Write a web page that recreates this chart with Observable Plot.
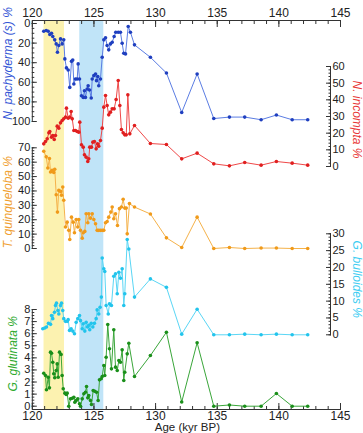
<!DOCTYPE html>
<html><head><meta charset="utf-8">
<script src="https://cdn.jsdelivr.net/npm/d3@7"></script>
<script src="https://cdn.jsdelivr.net/npm/@observablehq/plot@0.6"></script>
<style>
body{margin:0;background:#fff;}
#chart{position:relative;width:363px;height:433px;}
#chart svg{position:absolute;left:0;top:0;}
</style></head><body><div id="chart"></div>
<script>
// ---- data ----
const ageDomain = [120, 145];
const ageTicks = [120, 125, 130, 135, 140, 145];
const yellowBand = [120.95, 122.61];
const blueBand = [123.85, 125.8];

const pachyAge = [120.93,121.13,121.29,121.42,121.56,121.66,121.82,121.94,122.04,122.15,122.29,122.42,122.55,122.64,122.77,122.91,123.04,123.18,123.28,123.37,123.50,123.64,123.72,123.83,123.99,124.13,124.23,124.31,124.45,124.53,124.64,124.78,124.86,124.99,125.13,125.21,125.31,125.39,125.53,125.67,125.80,125.94,126.07,126.20,126.34,126.48,126.64,126.77,126.97,127.15,127.29,127.42,127.56,127.78,127.96,128.29,129.58,130.88,132.12,133.37,134.72,135.99,137.23,138.56,139.80,141.08,142.34];
const pachyPct = [7.9,7.2,7.9,11.3,9.9,13.3,16.7,20.8,29.4,22.5,15.7,20.8,16.7,36.1,45.3,47.4,65.2,38.6,37.2,61.7,56.6,56.6,41.2,56.6,73.7,75.4,68.6,75.4,66.8,63.5,67.9,76.0,56.6,53.2,51.5,58.3,54.2,63.5,56.6,34.5,16.7,14.6,22.5,26.9,20.8,19.1,13.3,8.9,8.9,8.9,20.2,30.4,31.0,3.1,8.9,21.8,34.5,50.5,90.8,51.5,97.0,95.5,95.5,98.2,93.4,98.2,98.2];
const pachyTicks = [0, 20, 40, 60, 80, 100];

const incomptaAge = [120.93,121.07,121.21,121.34,121.42,121.56,121.66,121.78,121.88,122.02,122.15,122.29,122.42,122.55,122.69,122.77,122.91,123.04,123.15,123.24,123.37,123.50,123.64,123.77,123.85,123.99,124.13,124.23,124.37,124.50,124.58,124.66,124.80,124.91,125.04,125.18,125.29,125.39,125.53,125.67,125.80,125.94,126.07,126.20,126.34,126.48,126.64,126.80,126.97,127.10,127.23,127.37,127.50,127.62,127.75,127.91,128.29,129.58,130.88,132.12,133.37,134.72,135.99,137.23,138.56,139.80,141.08,142.34];
const incomptaPct = [13.6,15.0,16.6,20.2,21.0,17.6,18.6,16.2,18.6,24.2,23.0,26.2,27.6,28.6,29.6,35.0,29.0,29.6,33.0,28.6,21.6,21.6,21.0,20.6,26.6,13.0,11.6,7.0,5.6,3.0,4.6,11.6,11.6,14.6,15.0,10.6,13.6,12.2,15.6,23.0,35.6,42.6,36.6,31.0,32.6,34.6,34.6,40.2,51.6,36.6,22.2,20.2,19.0,19.0,43.0,19.6,24.6,13.8,13.2,4.6,8.0,1.6,0.4,2.4,0.8,3.0,2.0,0.8];
const incomptaTicks = [0, 10, 20, 30, 40, 50, 60];

const quinqAge = [120.93,121.13,121.26,121.39,121.48,121.61,121.74,121.82,121.94,122.04,122.15,122.29,122.37,122.47,122.55,122.69,122.83,122.96,123.04,123.18,123.32,123.42,123.56,123.69,123.77,123.91,124.05,124.13,124.26,124.37,124.50,124.58,124.72,124.86,124.99,125.13,125.26,125.39,125.53,125.67,125.80,125.94,126.07,126.20,126.37,126.48,126.61,126.75,126.91,127.07,127.23,127.37,127.50,127.62,127.70,127.88,128.29,129.58,130.88,132.12,133.37,134.72,135.99,137.23,138.56,139.80,141.08,142.34];
const quinqPct = [67.6,63.7,56.0,62.5,53.2,54.4,52.8,55.1,37.4,25.3,40.4,39.7,37.0,42.7,33.5,14.9,18.3,12.6,6.3,21.8,18.3,10.9,20.2,14.9,20.2,12.6,7.2,10.9,11.9,24.2,17.9,24.2,21.1,24.2,20.2,17.2,12.6,12.6,12.6,12.6,12.6,17.9,18.8,21.8,25.3,28.8,20.7,24.2,16.0,27.7,28.8,34.2,28.1,28.1,10.2,31.2,28.8,24.0,7.4,0.7,21.8,0,0.7,0,0.3,0.3,0,0];
const quinqTicks = [0, 10, 20, 30, 40, 50, 60, 70];

const bulloAge = [120.85,121.01,121.15,121.31,121.48,121.56,121.66,121.80,121.88,121.96,122.07,122.15,122.29,122.37,122.47,122.55,122.69,122.83,122.91,123.02,123.15,123.28,123.42,123.56,123.69,123.83,123.91,124.05,124.13,124.26,124.37,124.48,124.58,124.66,124.78,124.91,125.04,125.18,125.26,125.39,125.50,125.60,125.67,125.80,125.88,125.99,126.16,126.26,126.42,126.61,126.75,126.89,127.02,127.15,127.29,127.42,127.50,127.70,127.83,128.29,129.58,130.88,132.12,133.37,134.72,135.99,137.23,138.56,139.80,141.08,142.34];
const bulloPct = [1.8,2.0,2.3,3.4,3.1,5.7,4.8,6.7,8.7,9.4,7.2,6.2,8.7,9.4,7.2,4.8,4.0,4.0,4.5,1.3,1.8,1.1,0.3,3.7,4.8,5.7,4.2,1.8,3.3,1.1,3.7,2.3,2.8,1.5,3.4,2.3,3.4,4.8,7.4,6.2,8.2,11.2,22.8,19.6,18.8,8.7,6.2,9.2,8.7,17.4,18.1,12.2,18.6,16.8,19.6,8.7,12.2,28.3,25.5,11.2,16.6,14.1,0.2,7.6,0,0,0.2,0,0.2,0,0];
const bulloTicks = [0, 5, 10, 15, 20, 25, 30];

const glutAge = [120.93,121.07,121.15,121.29,121.39,121.48,121.56,121.66,121.74,121.82,121.94,122.02,122.10,122.21,122.34,122.42,122.51,122.64,122.75,122.83,122.96,123.10,123.24,123.37,123.45,123.56,123.69,123.83,123.91,124.05,124.18,124.31,124.40,124.50,124.58,124.72,124.80,124.94,125.07,125.21,125.34,125.45,125.59,125.67,125.80,125.88,125.99,126.12,126.26,126.42,126.61,126.75,126.89,127.02,127.15,127.29,127.42,127.50,127.70,127.83,128.29,129.58,130.88,132.12,133.37,134.72,135.99,137.23,138.56,139.80,141.08,142.34];
const glutPct = [2.73,2.54,1.36,2.40,1.52,4.47,4.38,3.64,2.68,2.35,2.95,3.50,2.40,4.47,4.28,2.54,1.44,1.08,0.97,1.08,0.0,0.61,0.66,0.74,0.33,0.47,0.61,0.2,0.0,0.61,1.03,1.16,1.63,0.69,0.88,0.47,0.14,1.30,1.24,1.16,0.47,2.18,2.27,2.46,3.37,2.54,4.05,6.76,4.75,3.09,6.32,3.23,2.95,3.78,3.64,4.66,2.13,2.81,4.33,5.21,2.46,4.19,6.12,0.35,5.25,0,0.1,0,0,1.05,0,0];
const glutTicks = [0, 1, 2, 3, 4, 5, 6, 7, 8];

// ---- layout ----
const W = 363, H = 433, FX0 = 31.8, FX1 = 340, RAX = 330;
const FONT = "'Liberation Sans', Arial, sans-serif";
const AX = "#333";
const chart = document.getElementById("chart");
const baseStyle = {background: "transparent", fontFamily: FONT, fontSize: "11px", overflow: "visible", color: AX};

// base: bands + age axes
chart.append(Plot.plot({
  width: W, height: H, marginTop: 20, marginBottom: 24, marginLeft: FX0, marginRight: W - FX1,
  x: {domain: ageDomain, range: [FX0, FX1], label: null},
  y: {domain: [0, 1], axis: null},
  style: {...baseStyle, background: "white"},
  marks: [
    Plot.rect([yellowBand], {x1: d => d[0], x2: d => d[1], fill: "#fcf2b0"}),
    Plot.rect([blueBand], {x1: d => d[0], x2: d => d[1], fill: "#c0e4f8"}),
    Plot.frame({anchor: "top", stroke: AX}),
    Plot.frame({anchor: "bottom", stroke: AX}),
    Plot.axisX(d3.range(120, 145.5, 1), {anchor: "top", tickSize: 3, dy: 3, fill: "none", stroke: AX, label: null}),
    Plot.axisX(ageTicks, {anchor: "top", tickSize: 6, dy: 6, fill: "none", stroke: AX, label: null}),
    Plot.axisX(ageTicks, {anchor: "top", tickSize: 0, tickPadding: 3.5, fontSize: 12, fill: "#222", label: null}),
    Plot.axisX(d3.range(120, 145.5, 1), {anchor: "bottom", tickSize: 3, dy: -3, fill: "none", stroke: AX, label: null}),
    Plot.axisX(ageTicks, {anchor: "bottom", tickSize: 0, tickPadding: 2, fontSize: 12, fill: "#222", label: null}),
    Plot.axisX(ageTicks, {anchor: "bottom", tickSize: 6, dy: -6, fill: "none", stroke: AX, label: null}),
    Plot.text(["Age (kyr BP)"], {frameAnchor: "bottom", dx: 1, dy: 21, fontSize: 11.5, fill: "#222"})
  ]
}));

function panel({age, pct, top, bottom, domain, reverse = false, side, major, minorStep, dot, line, labelColor, label, ldx, ldy}) {
  const data = age.map((a, i) => ({age: a, v: pct[i]}));
  const left = side === "left";
  const minor = d3.range(domain[0], domain[1] + minorStep / 2, minorStep);
  return Plot.plot({
    width: W, height: H, marginTop: top, marginBottom: H - bottom,
    marginLeft: FX0, marginRight: left ? W - FX1 : W - RAX,
    x: {domain: ageDomain, range: [FX0, FX1], axis: null},
    y: {domain, reverse, label: null},
    style: baseStyle,
    marks: [
      Plot.frame({anchor: side, stroke: AX}),
      Plot.axisY(minor, {anchor: side, tickSize: 2.5, dx: left ? 2.5 : -2.5, fill: "none", stroke: AX, label: null}),
      Plot.axisY(major, {anchor: side, tickSize: 5, dx: left ? 5 : -5, fill: "none", stroke: AX, label: null}),
      Plot.axisY(major, {anchor: side, tickSize: 0, tickPadding: 2, fontSize: 11, fill: "#222", label: null}),
      Plot.line(data, {x: "age", y: "v", stroke: line, strokeWidth: 1}),
      Plot.dot(data, {x: "age", y: "v", fill: dot, r: 1.8}),
      Plot.text([label], {frameAnchor: left ? "left" : "right", textAnchor: "middle", rotate: left ? -90 : 90,
        dx: ldx, dy: ldy, fill: labelColor, fontSize: 12, fontStyle: "italic"})
    ]
  });
}

chart.append(panel({age: pachyAge, pct: pachyPct, top: 23, bottom: 121, domain: [0, 100], reverse: true,
  side: "left", major: pachyTicks, minorStep: 5, dot: "#1f3fbf", line: "#5b7de3", labelColor: "#3456d6",
  label: "N. pachyderma (s) %", ldx: -24.5, ldy: -9}));
chart.append(panel({age: incomptaAge, pct: incomptaPct, top: 66, bottom: 166, domain: [0, 60],
  side: "right", major: incomptaTicks, minorStep: 2, dot: "#e01f1f", line: "#ef4848", labelColor: "#e83838",
  label: "N. incompta %", ldx: 26, ldy: 3}));
chart.append(panel({age: quinqAge, pct: quinqPct, top: 147.3, bottom: 248, domain: [0, 70],
  side: "left", major: quinqTicks, minorStep: 2, dot: "#f09a1a", line: "#f5b24a", labelColor: "#f0a030",
  label: "T. quinqueloba %", ldx: -24.5, ldy: 4}));
chart.append(panel({age: bulloAge, pct: bulloPct, top: 233.3, bottom: 334.3, domain: [0, 30],
  side: "right", major: bulloTicks, minorStep: 1, dot: "#22c4ec", line: "#5ad6f5", labelColor: "#3dcdf2",
  label: "G. bulloides %", ldx: 26, ldy: -5}));
chart.append(panel({age: glutAge, pct: glutPct, top: 309, bottom: 405.7, domain: [0, 8],
  side: "left", major: glutTicks, minorStep: 0.25, dot: "#1a8f1a", line: "#3aa63a", labelColor: "#2faa2f",
  label: "G. glutinata %", ldx: -19.5, ldy: -4}));
</script></body></html>
